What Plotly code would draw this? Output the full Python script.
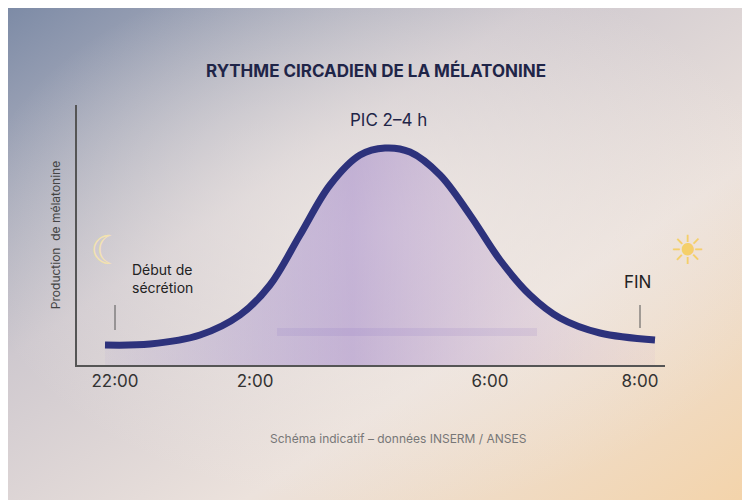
import base64
import plotly.graph_objects as go

# Data (x in chart units along the time axis, y = relative melatonin level)
curve_x = [28, 73, 123, 163, 193, 223, 253, 283, 308, 333, 363, 393, 423, 453, 483, 523, 578]
curve_y = [20, 21, 30, 50, 80, 130, 180, 210, 217, 213, 190, 150, 105, 70, 47, 32, 25]
tick_vals = [38, 178, 413, 563]
tick_text = ["22:00", "2:00", "6:00", "8:00"]

svg = """<svg xmlns='http://www.w3.org/2000/svg' width='750' height='500'>
<defs>
<linearGradient id='g' x1='0' y1='0' x2='1' y2='1'>
<stop offset='0' stop-color='#7d8ba6'/>
<stop offset='0.35' stop-color='#cfc9cf'/>
<stop offset='0.65' stop-color='#ece2dc'/>
<stop offset='1' stop-color='#f4d3a8'/>
</linearGradient>
<radialGradient id='r' cx='0.5' cy='0.45' r='0.55'>
<stop offset='0' stop-color='#f2ebe6' stop-opacity='0.8'/>
<stop offset='1' stop-color='#f2ebe6' stop-opacity='0'/>
</radialGradient>
</defs>
<rect width='750' height='500' fill='url(#g)'/>
<rect width='750' height='500' fill='url(#r)'/>
</svg>"""
src = "data:image/svg+xml;base64," + base64.b64encode(svg.encode()).decode()

fig = go.Figure()
fig.add_trace(go.Scatter(
    x=curve_x, y=curve_y, mode="lines", line=dict(shape="spline", color="#2d327c", width=7),
    fill="tozeroy",
    fillgradient=dict(type="horizontal", colorscale=[[0, "rgba(120,100,200,0.05)"], [0.45, "rgba(150,120,200,0.45)"], [1, "rgba(200,170,210,0.1)"]]),
    hoverinfo="skip", showlegend=False))
fig.add_trace(go.Scatter(x=[200, 460], y=[33, 33], mode="lines",
    line=dict(color="rgba(110,80,190,0.10)", width=8), hoverinfo="skip", showlegend=False))
fig.add_trace(go.Scatter(x=[38, 38, None, 563, 563], y=[35, 60, None, 37, 60], mode="lines",
    line=dict(color="#555", width=1), hoverinfo="skip", showlegend=False))

fig.update_layout(
    width=750, height=500, margin=dict(l=0, r=0, t=0, b=0),
    paper_bgcolor="#e6dcd8", plot_bgcolor="rgba(0,0,0,0)",
    images=[dict(source=src, xref="paper", yref="paper", x=0, y=1, sizex=1, sizey=1,
                 sizing="stretch", layer="below")],
    xaxis=dict(domain=[69/750, 657/750], range=[0, 588], showgrid=False, zeroline=False,
               showline=True, linecolor="#555", linewidth=1.5, tickvals=tick_vals, ticktext=tick_text,
               ticks="", tickfont=dict(size=17, color="#333", family="Inter")),
    yaxis=dict(domain=[1-357/500, 1-97/500], range=[0, 260], showgrid=False, zeroline=False,
               showline=True, linecolor="#555", linewidth=1.5, showticklabels=False,
               title=dict(text="Production  de mélatonine", font=dict(size=12, color="#444", family="Inter"), standoff=12)),
    font=dict(family="Inter"),
    annotations=[
        dict(text="<b>RYTHME CIRCADIEN DE LA MÉLATONINE</b>", xref="paper", yref="paper", x=0.49, y=1-50/500,
             showarrow=False, font=dict(size=17, color="#1f2548")),
        dict(text="PIC 2–4 h", xref="x", yref="y", x=311, y=245, showarrow=False, font=dict(size=17, color="#1f2548")),
        dict(text="Début de<br>sécrétion", xref="x", yref="y", x=53, y=87, showarrow=False, xanchor="left",
             align="left", font=dict(size=14, color="#222")),
        dict(text="FIN", xref="x", yref="y", x=560, y=83, showarrow=False, font=dict(size=17, color="#222")),
        dict(text="Schéma indicatif – données INSERM / ANSES", xref="paper", yref="paper", x=0.52, y=1-440/500,
             showarrow=False, font=dict(size=12, color="#777")),
        dict(text="☾", xref="paper", yref="paper", x=80/750, y=1-242/500, showarrow=False,
             font=dict(size=40, color="#f3e2b0", family="DejaVu Sans")),
        dict(text="☀", xref="paper", yref="paper", x=700/750, y=1-242/500, showarrow=False,
             font=dict(size=40, color="#f5cf6a", family="DejaVu Sans")),
    ],
)
fig.write_html("out.html")
